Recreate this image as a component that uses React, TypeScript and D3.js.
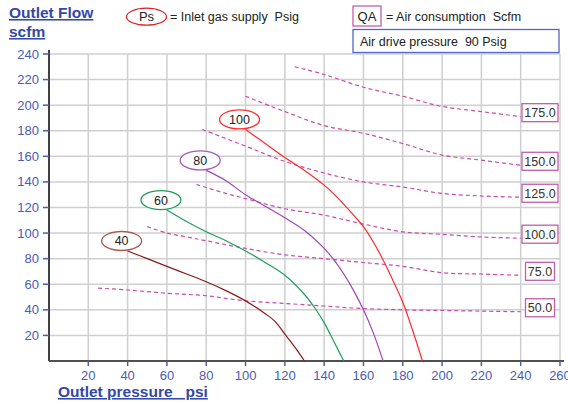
import React from "react";
import * as d3 from "d3";

// ---- data ----
const xTicks = [20, 40, 60, 80, 100, 120, 140, 160, 180, 200, 220, 240, 260];
const yTicks = [20, 40, 60, 80, 100, 120, 140, 160, 180, 200, 220, 240];

// Inlet gas supply curves (Ps)
const psLabels = ["40", "60", "80", "100"];
const psColors = ["#8b1a1a", "#1e9e5a", "#9a48b4", "#ff2a2a"];
const psEllipseColors = ["#b05555", "#1e9e5a", "#a45cbc", "#ff3030"];
const ps40: [number, number][] = [[40, 86], [50, 80], [60, 74], [70, 68], [80, 62], [90, 55], [100, 47], [110, 37], [115, 31], [120, 21], [125, 11], [130, 0]];
const ps60: [number, number][] = [[60, 118], [70, 109], [80, 101], [90, 94], [100, 86], [110, 77], [120, 67], [130, 52], [135, 42], [140, 30], [145, 15], [150, 0]];
const ps80: [number, number][] = [[80, 149], [90, 141], [100, 130], [110, 121], [120, 112], [130, 102], [140, 88], [145, 79], [150, 68], [155, 55], [160, 40], [165, 22], [170, 0]];
const ps100: [number, number][] = [[100, 181], [110, 170], [120, 159], [130, 149], [140, 137.5], [145, 130.5], [150, 122.5], [155, 114], [160, 105], [165, 93], [170, 79], [175, 63], [180, 46], [185, 24], [190, 0]];
const psSeries = [ps40, ps60, ps80, ps100];

// Air consumption curves (QA)
const qaLabels = ["175.0", "150.0", "125.0", "100.0", "75.0", "50.0"];
const qa175: [number, number][] = [[125, 230], [140, 224], [160, 214], [180, 207], [200, 199], [220, 195], [240, 191]];
const qa150: [number, number][] = [[100, 207], [120, 195], [140, 184], [160, 178], [180, 170], [200, 161], [220, 157], [240, 153]];
const qa125: [number, number][] = [[78, 181], [100, 168], [120, 156], [140, 147], [160, 140], [180, 136], [200, 131], [220, 129], [240, 128]];
const qa100: [number, number][] = [[75, 138], [90, 131], [100, 127], [120, 119], [140, 114], [160, 107], [180, 101], [200, 99], [220, 97], [240, 96]];
const qa75: [number, number][] = [[50, 105], [60, 100], [70, 97], [80, 94], [100, 88], [120, 83], [140, 80], [160, 77], [180, 74], [200, 69], [220, 68], [240, 67]];
const qa50: [number, number][] = [[25, 57], [40, 55.5], [60, 53], [80, 51], [100, 47], [120, 45], [140, 43], [160, 41], [180, 40], [200, 39.5], [220, 39], [240, 38.5]];
const qaSeries = [qa175, qa150, qa125, qa100, qa75, qa50];

const FONT = "'Liberation Sans', Arial, sans-serif";
const BLUE = "#4a5cb4";
const TITLE = "#3448a6";
const QA_COLOR = "#c84ab0";

export default function App() {
  const W = 568, H = 404;
  const x = d3.scaleLinear().domain([0, 260]).range([49, 560]);
  const y = d3.scaleLinear().domain([0, 240]).range([361, 54]);
  const line = d3.line<[number, number]>().x(d => x(d[0])).y(d => y(d[1])).curve(d3.curveCatmullRom.alpha(0.5));
  const qaLine = d3.line<[number, number]>().x(d => x(d[0])).y(d => y(d[1])).curve(d3.curveCatmullRom);

  return (
    <svg width={W} height={H} style={{ position: "absolute", left: 0, top: 0, background: "#fff" }} fontFamily={FONT}>
      <rect x={0} y={0} width={W} height={H} fill="#fff" />
      {/* grid */}
      {xTicks.map(t => (
        <line key={"gx" + t} x1={x(t)} x2={x(t)} y1={y(240)} y2={y(0)} stroke="#cfcfcf" strokeWidth={1.5} />
      ))}
      {yTicks.map(t => (
        <line key={"gy" + t} x1={x(0)} x2={x(260)} y1={y(t)} y2={y(t)} stroke="#cfcfcf" strokeWidth={1.5} />
      ))}
      {/* axes */}
      <line x1={x(0)} x2={x(0)} y1={50} y2={y(0)} stroke="#404040" strokeWidth={2} />
      <line x1={x(0)} x2={564} y1={y(0)} y2={y(0)} stroke="#505050" strokeWidth={2} />
      {yTicks.map(t => (
        <g key={"yt" + t}>
          <line x1={x(0) - 6} x2={x(0)} y1={y(t)} y2={y(t)} stroke={BLUE} strokeWidth={1.5} />
          <text x={39} y={y(t) + 4.5} textAnchor="end" fontSize={13} fill={BLUE}>{t}</text>
        </g>
      ))}
      {xTicks.map(t => (
        <g key={"xt" + t}>
          <line x1={x(t)} x2={x(t)} y1={y(0)} y2={y(0) + 5} stroke={BLUE} strokeWidth={1.5} />
          <text x={x(t)} y={380} textAnchor="middle" fontSize={13} fill={BLUE}>{t}</text>
        </g>
      ))}

      {/* QA dashed curves */}
      {qaSeries.map((s, i) => {
        const last = s[s.length - 1];
        const lbl = qaLabels[i];
        const bw = lbl.length > 4 ? 36 : 29;
        const cx = 540;
        const cy = y(last[1]) - 4;
        return (
          <g key={"qa" + i}>
            <path d={qaLine(s) || ""} fill="none" stroke={QA_COLOR} strokeWidth={1.2} strokeDasharray="4,3" />
            <rect x={cx - bw / 2} y={cy - 9} width={bw} height={18} fill="#fff" stroke="#c060a8" strokeWidth={1.3} />
            <text x={cx} y={cy + 4.5} textAnchor="middle" fontSize={12.5} fill="#333">{lbl}</text>
          </g>
        );
      })}

      {/* Ps curves */}
      {psSeries.map((s, i) => {
        const first = s[0];
        const ex = x(first[0]) - 6;
        const ey = y(first[1]) - 10;
        return (
          <g key={"ps" + i}>
            <path d={line(s) || ""} fill="none" stroke={psColors[i]} strokeWidth={1.2} />
            <ellipse cx={ex} cy={ey} rx={20} ry={9.5} fill="#fff" stroke={psEllipseColors[i]} strokeWidth={1.3} />
            <text x={ex} y={ey + 4.5} textAnchor="middle" fontSize={12.5} fill="#222">{psLabels[i]}</text>
          </g>
        );
      })}

      {/* titles */}
      <text x={9} y={18} fontSize={15.5} fontWeight="bold" fill={TITLE} textDecoration="underline">Outlet Flow</text>
      <text x={9} y={37} fontSize={15.5} fontWeight="bold" fill={TITLE} textDecoration="underline">scfm</text>
      <text x={58} y={397} fontSize={15.5} fontWeight="bold" fill={TITLE} textDecoration="underline" style={{ whiteSpace: "pre" }}>{"Outlet pressure   psi"}</text>

      {/* legend */}
      <ellipse cx={146.5} cy={16.7} rx={20} ry={8.5} fill="#fff" stroke="#e02020" strokeWidth={1.2} />
      <text x={146.5} y={21} textAnchor="middle" fontSize={13} fill="#222">Ps</text>
      <text x={170} y={20.5} fontSize={12.5} fill="#222" style={{ whiteSpace: "pre" }}>{"= Inlet gas supply  Psig"}</text>
      <rect x={353} y={6} width={28} height={20} fill="#fff" stroke="#c060a8" strokeWidth={1.3} />
      <text x={367} y={20.5} textAnchor="middle" fontSize={13} fill="#222">QA</text>
      <text x={386} y={20.5} fontSize={12.5} fill="#222" style={{ whiteSpace: "pre" }}>{"= Air consumption  Scfm"}</text>
      <rect x={353} y={29.5} width={206} height={23} fill="#fff" stroke="#5068c0" strokeWidth={1.3} />
      <text x={360} y={45.5} fontSize={12.5} fill="#222" style={{ whiteSpace: "pre" }}>{"Air drive pressure  90 Psig"}</text>
    </svg>
  );
}
